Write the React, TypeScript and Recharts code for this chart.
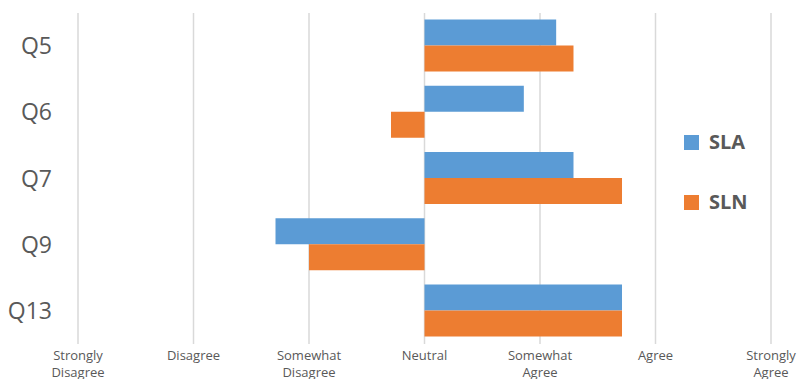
import React from "react";
import {
  BarChart,
  Bar,
  XAxis,
  YAxis,
  CartesianGrid,
  Legend,
} from "recharts";

// Survey questions and mean responses on a -3..3 Likert scale
const questions = ["Q5", "Q6", "Q7", "Q9", "Q13"];
const slaValues = [1.14, 0.86, 1.29, -1.29, 1.71];
const slnValues = [1.29, -0.29, 1.71, -1.0, 1.71];

const scaleTicks = [-3, -2, -1, 0, 1, 2, 3];
const scaleLabels = [
  ["Strongly", "Disagree"],
  ["Disagree"],
  ["Somewhat", "Disagree"],
  ["Neutral"],
  ["Somewhat", "Agree"],
  ["Agree"],
  ["Strongly", "Agree"],
];

const seriesNames = ["SLA", "SLN"];
const seriesColors = ["#5B9BD5", "#ED7D31"];

const data = questions.map((q, i) => ({
  name: q,
  SLA: slaValues[i],
  SLN: slnValues[i],
}));

const FONT = "'Open Sans', 'Noto Sans', sans-serif";
const TEXT_COLOR = "#595959";

const ScaleTick = (props: any) => {
  const { x, y, payload } = props;
  const idx = scaleTicks.indexOf(payload.value);
  const lines = idx >= 0 ? scaleLabels[idx] : [String(payload.value)];
  return (
    <text
      x={x}
      y={y}
      textAnchor="middle"
      fill={TEXT_COLOR}
      fontFamily={FONT}
      fontSize={13}
    >
      {lines.map((line, i) => (
        <tspan key={i} x={x} dy={i === 0 ? 7.5 : 17.5}>
          {line}
        </tspan>
      ))}
    </text>
  );
};

const LegendContent = () => (
  <div style={{ fontFamily: FONT }}>
    {seriesNames.map((name, i) => (
      <div
        key={name}
        style={{
          display: "flex",
          alignItems: "center",
          height: 22,
          marginBottom: i === 0 ? 38 : 0,
        }}
      >
        <div
          style={{
            width: 15,
            height: 15,
            background: seriesColors[i],
            marginRight: 10,
          }}
        />
        <span
          style={{
            fontSize: 20,
            fontWeight: 700,
            color: TEXT_COLOR,
            lineHeight: "22px",
          }}
        >
          {name}
        </span>
      </div>
    ))}
  </div>
);

export default function App() {
  return (
    <div style={{ position: "fixed", left: 0, top: 0, background: "#fff" }}>
      <BarChart
        width={798}
        height={379}
        data={data}
        layout="vertical"
        margin={{ top: 13, right: 27, bottom: 5, left: 0 }}
        barCategoryGap="10%"
        barGap={0}
      >
        <CartesianGrid
          horizontal={false}
          vertical={true}
          stroke="#D9D9D9"
          strokeWidth={1.5}
        />
        <XAxis
          type="number"
          domain={[-3, 3]}
          ticks={scaleTicks}
          interval={0}
          height={30}
          axisLine={false}
          tickLine={false}
          tick={<ScaleTick />}
        />
        <YAxis
          type="category"
          dataKey="name"
          width={78}
          axisLine={false}
          tickLine={false}
          tickSize={6}
          tickMargin={20}
          tick={{ fill: TEXT_COLOR, fontSize: 23, fontFamily: FONT }}
        />
        <Legend
          layout="horizontal"
          verticalAlign="middle"
          align="center"
          content={<LegendContent />}
          wrapperStyle={{ left: 684, top: 131, width: 100 }}
        />
        {seriesNames.map((name, i) => (
          <Bar
            key={name}
            dataKey={name}
            fill={seriesColors[i]}
            isAnimationActive={false}
          />
        ))}
      </BarChart>
    </div>
  );
}
